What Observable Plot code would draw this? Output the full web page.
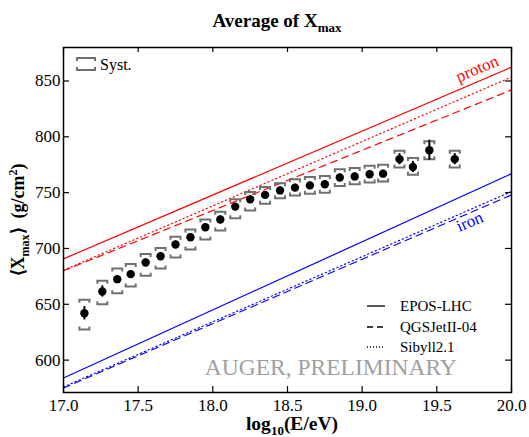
<!DOCTYPE html>
<html>
<head>
<meta charset="utf-8">
<script src="https://cdn.jsdelivr.net/npm/d3@7"></script>
<script src="https://cdn.jsdelivr.net/npm/@observablehq/plot@0.6"></script>
<style>
  html, body { margin: 0; padding: 0; background: white; }
  #chart svg text { font-family: 'Liberation Serif', 'Times New Roman', serif; }
</style>
</head>
<body>
<div id="chart"></div>
<script>
// ---- data ----
const energy   = [17.14, 17.26, 17.36, 17.45, 17.55, 17.65, 17.75, 17.85, 17.95, 18.05, 18.15, 18.25, 18.35, 18.45, 18.55, 18.65, 18.75, 18.85, 18.95, 19.05, 19.14, 19.25, 19.34, 19.45, 19.62];
const xmaxMean = [642, 661.5, 672.5, 677, 687.5, 693, 703.5, 710, 719, 726, 737.5, 744, 748, 752, 754.5, 756.5, 757.5, 763.5, 764.5, 766.5, 767, 780, 773, 788, 780];
const statErr  = [6, 5, 3, 3, 3, 3, 3, 3, 3, 3, 3, 3, 3, 3, 3, 3, 3, 3, 3, 3, 3, 5, 5, 9, 5];
const systLow  = [627.5, 650, 660, 666, 675.5, 682, 692, 699, 708, 716, 727, 734, 740, 745, 747.5, 749, 750, 756, 757.5, 759, 760, 772.5, 766, 780, 772.5];
const systHigh = [654, 671, 682, 686, 695, 700.5, 710.5, 717, 726, 733, 744, 750.5, 755, 758.5, 762, 764, 765, 771, 772, 774, 775, 787.5, 781, 796, 787.5];

const modelE      = [17.0, 20.0];
const protonEPOS  = [690.7, 862.4];
const protonQGS   = [680, 842];
const protonSib   = [680.5, 853.5];
const ironEPOS    = [584, 767];
const ironQGS     = [575, 748];
const ironSib     = [576, 751];

const modelNames = ["EPOS-LHC", "QGSJetII-04", "Sibyll2.1"];
const xTicks = [17.0, 17.5, 18.0, 18.5, 19.0, 19.5, 20.0];
const yTicks = [600, 650, 700, 750, 800, 850];

const labelNames = ["proton", "iron"];
const labelE     = [19.77, 19.72];
const labelX     = [861, 724];
const labelColor = ["#ff0000", "#0000ff"];

// ---- build tables ----
const points = energy.map((e, i) => ({
  E: e, X: xmaxMean[i], lo: xmaxMean[i] - statErr[i], hi: xmaxMean[i] + statErr[i],
  sLo: systLow[i], sHi: systHigh[i]
}));
const toLine = (vals) => modelE.map((e, i) => ({E: e, X: vals[i]}));
const labels = labelNames.map((n, i) => ({name: n, E: labelE[i], X: labelX[i], color: labelColor[i]}));

const W = 529, H = 437, mL = 63, mR = 18, mT = 47, mB = 45;
const fw = W - mL - mR, fh = H - mT - mB;
const serif = "'Liberation Serif', 'Times New Roman', serif";

const bracketTop = {draw(ctx) { ctx.moveTo(-5, 3); ctx.lineTo(-5, 0); ctx.lineTo(5, 0); ctx.lineTo(5, 3); }};
const bracketBot = {draw(ctx) { ctx.moveTo(-5, -3); ctx.lineTo(-5, 0); ctx.lineTo(5, 0); ctx.lineTo(5, -3); }};

const red = "#ff0000", blue = "#0000ff";
const dashed = "7,5", dotted = "1.2,3";

const plot = Plot.plot({
  width: W, height: H,
  marginLeft: mL, marginRight: mR, marginTop: mT, marginBottom: mB,
  style: {fontFamily: serif, fontSize: "17px", background: "white", color: "black"},
  x: {domain: [17, 20]},
  y: {domain: [571, 880]},
  marks: [
    Plot.line(toLine(protonEPOS), {x: "E", y: "X", stroke: red, strokeWidth: 1.2}),
    Plot.line(toLine(protonQGS),  {x: "E", y: "X", stroke: red, strokeWidth: 1.2, strokeDasharray: dashed}),
    Plot.line(toLine(protonSib),  {x: "E", y: "X", stroke: red, strokeWidth: 1.2, strokeDasharray: dotted}),
    Plot.line(toLine(ironEPOS),   {x: "E", y: "X", stroke: blue, strokeWidth: 1.2}),
    Plot.line(toLine(ironQGS),    {x: "E", y: "X", stroke: blue, strokeWidth: 1.2, strokeDasharray: dashed}),
    Plot.line(toLine(ironSib),    {x: "E", y: "X", stroke: blue, strokeWidth: 1.2, strokeDasharray: dotted}),
    Plot.text(labels, {x: "E", y: "X", text: "name", fill: "color", rotate: -23, fontSize: 17, textAnchor: "middle"}),
    Plot.text(["AUGER, PRELIMINARY"], {x: 18.79, y: 587, text: d => d, fill: "#a0a0a0", fontSize: 23.5, textAnchor: "middle", lineAnchor: "bottom"}),
    Plot.dot(points, {x: "E", y: "sHi", symbol: bracketTop, stroke: "#707070", strokeWidth: 2, fill: "none"}),
    Plot.dot(points, {x: "E", y: "sLo", symbol: bracketBot, stroke: "#707070", strokeWidth: 2, fill: "none"}),
    Plot.ruleX(points, {x: "E", y1: "lo", y2: "hi", stroke: "black", strokeWidth: 2}),
    Plot.dot(points, {x: "E", y: "X", r: 4.2, fill: "black"}),
    // inward ticks
    Plot.tickX(xTicks, {x: d => d, insetTop: fh - 6, stroke: "black", strokeWidth: 1.2}),
    Plot.tickX(xTicks, {x: d => d, insetBottom: fh - 5, stroke: "black", strokeWidth: 1.2}),
    Plot.tickY(yTicks, {y: d => d, insetRight: fw - 6, stroke: "black", strokeWidth: 1.2}),
    Plot.tickY(yTicks, {y: d => d, insetLeft: fw - 6, stroke: "black", strokeWidth: 1.2}),
    Plot.axisX({ticks: xTicks, tickSize: 0, tickPadding: 6, tickFormat: d3.format(".1f"), label: null, fontSize: 17}),
    Plot.axisY({ticks: yTicks, tickSize: 0, tickPadding: 3, label: null, fontSize: 17}),
    Plot.frame({stroke: "black", strokeWidth: 1.5})
  ]
});

document.getElementById("chart").appendChild(plot);

// ---- titles and legends with sub/superscripts ----
const svg = d3.select(plot);

const title = svg.append("text")
  .attr("x", 277).attr("y", 27).attr("text-anchor", "middle")
  .attr("font-weight", "bold").attr("font-size", 19).attr("fill", "black");
title.append("tspan").text("Average of X");
title.append("tspan").attr("font-size", 13).attr("dy", 5).text("max");

const xl = svg.append("text")
  .attr("x", 292).attr("y", 430).attr("text-anchor", "middle")
  .attr("font-weight", "bold").attr("font-size", 19.5).attr("fill", "black");
xl.append("tspan").text("log");
xl.append("tspan").attr("font-size", 13).attr("dy", 5).text("10");
xl.append("tspan").attr("dy", -5).text("(E/eV)");

const yl = svg.append("text")
  .attr("transform", "translate(24,220) rotate(-90)").attr("text-anchor", "middle")
  .attr("font-weight", "bold").attr("font-size", 18).attr("fill", "black");
yl.append("tspan").text("\u27E8X");
yl.append("tspan").attr("font-size", 12).attr("dy", 5).text("max");
yl.append("tspan").attr("dy", -5).text("\u27E9  (g/cm");
yl.append("tspan").attr("font-size", 12).attr("dy", -7).text("2");
yl.append("tspan").attr("dy", 7).text(")");

// Syst. legend
const sg = svg.append("g").attr("stroke", "#707070").attr("stroke-width", 2).attr("fill", "none");
sg.append("path").attr("d", "M77,61V58H95V61");
sg.append("path").attr("d", "M77,67V70H95V67");
svg.append("text").attr("x", 100).attr("y", 70).attr("text-anchor", "start")
  .attr("font-size", 16).attr("fill", "black").text("Syst.");

// model legend
const dashes = [null, "6,4", "1,2"];
const legY = [306, 327, 347];
modelNames.forEach((n, i) => {
  svg.append("line").attr("x1", 367).attr("x2", 385).attr("y1", legY[i]).attr("y2", legY[i])
    .attr("stroke", "black").attr("stroke-width", 1.3).attr("stroke-dasharray", dashes[i]);
  svg.append("text").attr("x", 400).attr("y", legY[i] + 5).attr("text-anchor", "start")
    .attr("font-size", 15).attr("fill", "black").text(n);
});
</script>
</body>
</html>
